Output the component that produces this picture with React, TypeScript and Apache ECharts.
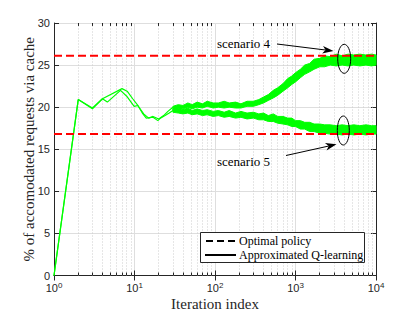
import React, { useEffect, useRef } from "react";
import * as echarts from "echarts";

// ---- data ----
const optimalLevels = [26.1, 16.8]; // scenario 4, scenario 5

// early (clean) part of the two Q-learning curves
const xA = [1, 2, 3, 4, 7, 8.1, 9.5, 11, 13, 15, 17, 20, 23, 26, 30];
const yA = [0, 20.9, 19.9, 21.0, 22.2, 21.9, 21.0, 20.2, 19.2, 18.7, 18.9, 18.6, 19.0, 19.5, 20.0];
const xB = [1, 2, 3, 4, 4.6, 6.7, 8, 9.9, 11, 12.5, 14, 17, 19.5, 21, 24, 27, 30];
const yB = [0, 20.9, 19.8, 21.0, 20.6, 22.0, 21.3, 20.1, 20.2, 19.3, 18.7, 18.8, 18.4, 18.7, 19.0, 19.3, 19.6];

// noisy part: envelope of the fluctuating curves
const xBand = [30, 35, 40, 46, 52, 60, 70, 80, 95, 110, 130, 150, 180, 210, 250, 300, 350, 400, 460, 530, 600, 700, 800, 900, 1000, 1150, 1300, 1500, 1700, 2000, 2300, 2700, 3200, 3800, 4500, 5300, 6300, 7500, 8800, 10000];
const hiA = [20.1, 20.3, 20.2, 20.5, 20.3, 20.6, 20.4, 20.7, 20.5, 20.5, 20.7, 20.5, 20.6, 20.4, 20.7, 20.7, 20.9, 21.2, 21.5, 22.0, 22.3, 22.8, 23.4, 23.7, 24.1, 24.5, 25.0, 25.2, 25.7, 25.8, 26.1, 26.0, 26.3, 26.1, 26.3, 26.2, 26.3, 26.2, 26.3, 26.2];
const loA = [19.7, 19.9, 19.8, 20.0, 19.8, 20.0, 19.9, 20.1, 19.9, 20.0, 19.9, 20.0, 19.9, 19.9, 20.1, 20.1, 20.3, 20.5, 20.8, 21.1, 21.4, 21.9, 22.3, 22.7, 23.0, 23.5, 23.9, 24.2, 24.5, 24.8, 24.8, 25.0, 24.9, 25.0, 24.9, 25.0, 24.9, 25.0, 24.9, 25.0];
const hiB = [19.8, 19.9, 19.7, 19.9, 19.6, 19.8, 19.6, 19.7, 19.5, 19.6, 19.4, 19.6, 19.3, 19.5, 19.3, 19.4, 19.2, 19.3, 19.0, 19.2, 18.9, 18.9, 18.7, 18.7, 18.4, 18.4, 18.2, 18.2, 18.0, 18.0, 17.9, 17.9, 17.8, 17.9, 17.8, 17.9, 17.8, 17.9, 17.8, 17.8];
const loB = [19.4, 19.3, 19.2, 19.3, 19.1, 19.2, 19.0, 19.1, 18.9, 19.0, 18.8, 18.9, 18.7, 18.8, 18.6, 18.7, 18.5, 18.5, 18.3, 18.3, 18.1, 18.0, 17.9, 17.7, 17.7, 17.4, 17.4, 17.1, 17.1, 16.9, 16.9, 16.8, 16.8, 16.7, 16.8, 16.7, 16.8, 16.7, 16.8, 16.8];

const minorX = [2, 3, 4, 5, 6, 7, 8, 9, 20, 30, 40, 50, 60, 70, 80, 90, 200, 300, 400, 500, 600, 700, 800, 900, 2000, 3000, 4000, 5000, 6000, 7000, 8000, 9000];
const xMin = 1, xMax = 10000, yMin = 0, yMax = 30, yStep = 5;

const GREEN = "#00ff00";
const SERIF = "'Liberation Serif', 'DejaVu Serif', serif";
const SANS = "'Liberation Sans', Arial, sans-serif";

function arrow(x1: number, y1: number, x2: number, y2: number) {
  const dx = x2 - x1, dy = y2 - y1;
  const L = Math.hypot(dx, dy);
  const ux = dx / L, uy = dy / L, px = -uy, py = ux;
  const len = 11, w = 3.8, notch = 8;
  const bx = x2 - ux * len, by = y2 - uy * len;
  const nx = x2 - ux * notch, ny = y2 - uy * notch;
  return [
    { type: "line", shape: { x1, y1, x2: nx, y2: ny }, style: { stroke: "#000", lineWidth: 1 }, z: 100 },
    {
      type: "polygon",
      shape: { points: [[x2, y2], [bx + px * w, by + py * w], [nx, ny], [bx - px * w, by - py * w]] },
      style: { fill: "#000" },
      z: 100,
    },
  ];
}

export default function App() {
  const ref = useRef<HTMLDivElement>(null);
  useEffect(() => {
    if (!ref.current) return;
    const chart = echarts.init(ref.current, null, { renderer: "svg" });

    const band = (lo: number[], hi: number[]) => ({
      type: "custom",
      coordinateSystem: "cartesian2d",
      data: [[xBand[0], lo[0]]],
      z: 3,
      silent: true,
      renderItem: (_p: any, api: any) => {
        const pts: number[][] = [];
        for (let i = 0; i < xBand.length; i++) pts.push(api.coord([xBand[i], hi[i]]));
        for (let i = xBand.length - 1; i >= 0; i--) pts.push(api.coord([xBand[i], lo[i]]));
        return { type: "polygon", shape: { points: pts }, style: { fill: GREEN, stroke: GREEN, lineWidth: 1 } };
      },
    });

    const minorLines = minorX.map((x) => [{ coord: [x, yMin] }, { coord: [x, yMax] }]);
    const minorTicks = [
      ...minorX.map((x) => [{ coord: [x, yMin] }, { coord: [x, yMin + 0.35] }]),
      ...minorX.map((x) => [{ coord: [x, yMax] }, { coord: [x, yMax - 0.35] }]),
    ];

    const tickStyle = { show: true, inside: true, length: 5, lineStyle: { color: "#262626", width: 1 } };
    const axisLine = { show: true, lineStyle: { color: "#262626", width: 1 } };

    chart.setOption({
      animation: false,
      grid: { left: 54, right: 39, top: 23, bottom: 36.5, containLabel: false, outerBoundsMode: "none" },
      xAxis: [
        {
          type: "log",
          logBase: 10,
          min: xMin,
          max: xMax,
          axisLine,
          axisTick: tickStyle,
          splitLine: { show: true, lineStyle: { color: "#dedede", width: 1 } },
          axisLabel: {
            margin: 6,
            formatter: (v: number) => `{b|10}{s|${Math.round(Math.log10(v))}}`,
            rich: {
              b: { fontSize: 11, fontFamily: SANS, color: "#262626", lineHeight: 12, padding: [3, 0, 0, 0], verticalAlign: "bottom" },
              s: { fontSize: 8, fontFamily: SANS, color: "#262626", lineHeight: 9, verticalAlign: "top" },
            },
          },
          name: "Iteration index",
          nameLocation: "middle",
          nameGap: 21,
          nameMoveOverlap: false,
          nameTextStyle: { fontFamily: SERIF, fontSize: 15, lineHeight: 15, color: "#262626" },
        },
        {
          type: "log",
          logBase: 10,
          min: xMin,
          max: xMax,
          position: "top",
          axisLine,
          axisTick: tickStyle,
          axisLabel: { show: false },
          splitLine: { show: false },
        },
      ],
      yAxis: [
        {
          type: "value",
          min: yMin,
          max: yMax,
          interval: yStep,
          axisLine,
          axisTick: tickStyle,
          splitLine: { show: true, lineStyle: { color: "#dedede", width: 1 } },
          axisLabel: { margin: 4, fontSize: 11, fontFamily: SANS, color: "#262626" },
          name: "% of accomodated requests via cache",
          nameLocation: "middle",
          nameGap: 18,
          nameMoveOverlap: false,
          nameTextStyle: { fontFamily: SERIF, fontSize: 15, lineHeight: 15, color: "#262626" },
        },
        {
          type: "value",
          min: yMin,
          max: yMax,
          interval: yStep,
          position: "right",
          axisLine,
          axisTick: tickStyle,
          axisLabel: { show: false },
          splitLine: { show: false },
        },
      ],
      series: [
        {
          type: "line",
          data: [],
          silent: true,
          z: 1,
          markLine: {
            silent: true,
            symbol: "none",
            label: { show: false },
            lineStyle: { color: "#cccccc", width: 1, type: [1, 2] },
            data: minorLines,
            z: 1,
          },
        },
        {
          type: "line",
          data: [],
          silent: true,
          z: 6,
          markLine: {
            silent: true,
            symbol: "none",
            label: { show: false },
            lineStyle: { color: "#262626", width: 1, type: "solid" },
            data: minorTicks,
            z: 6,
          },
        },
        band(loA, hiA),
        band(loB, hiB),
        {
          type: "line",
          data: xA.map((x, i) => [x, yA[i]]),
          showSymbol: false,
          lineStyle: { color: GREEN, width: 1.2 },
          z: 4,
        },
        {
          type: "line",
          data: xB.map((x, i) => [x, yB[i]]),
          showSymbol: false,
          lineStyle: { color: GREEN, width: 1.2 },
          z: 4,
        },
        ...optimalLevels.map((v) => ({
          type: "line",
          data: [[xMin, v], [xMax, v]],
          showSymbol: false,
          lineStyle: { color: "#ff0000", width: 2, type: [8, 4] },
          z: 5,
        })),
      ],
      graphic: [
        { type: "rect", shape: { x: 200.5, y: 232.5, width: 164, height: 30 }, style: { fill: "#fff", stroke: "#262626", lineWidth: 1 }, z: 100 },
        { type: "line", shape: { x1: 206, y1: 241, x2: 236, y2: 241 }, style: { stroke: "#000", lineWidth: 2, lineDash: [7, 4] }, z: 101 },
        { type: "line", shape: { x1: 205, y1: 255, x2: 236, y2: 255 }, style: { stroke: "#000", lineWidth: 2 }, z: 101 },
        { type: "text", x: 239, y: 241, style: { text: "Optimal policy", font: `12px ${SERIF}`, fill: "#000", verticalAlign: "middle" }, z: 101 },
        { type: "text", x: 239, y: 255, style: { text: "Approximated Q-learning", font: `12px ${SERIF}`, fill: "#000", verticalAlign: "middle" }, z: 101 },
        { type: "text", x: 217, y: 43, style: { text: "scenario 4", font: `13px ${SERIF}`, fill: "#000", verticalAlign: "middle" }, z: 101 },
        { type: "text", x: 217, y: 161, style: { text: "scenario 5", font: `13px ${SERIF}`, fill: "#000", verticalAlign: "middle" }, z: 101 },
        ...arrow(277, 44, 333.5, 51),
        ...arrow(286, 155.5, 336.5, 144.3),
        { type: "ellipse", shape: { cx: 344.2, cy: 58.8, rx: 6.5, ry: 14.5 }, style: { fill: "none", stroke: "#000", lineWidth: 1 }, z: 100 },
        { type: "ellipse", shape: { cx: 343.3, cy: 130.5, rx: 6, ry: 14.5 }, style: { fill: "none", stroke: "#000", lineWidth: 1 }, z: 100 },
      ],
    });
    return () => chart.dispose();
  }, []);
  return <div ref={ref} style={{ position: "fixed", left: 0, top: 0, width: 415, height: 312, background: "#fff" }} />;
}
